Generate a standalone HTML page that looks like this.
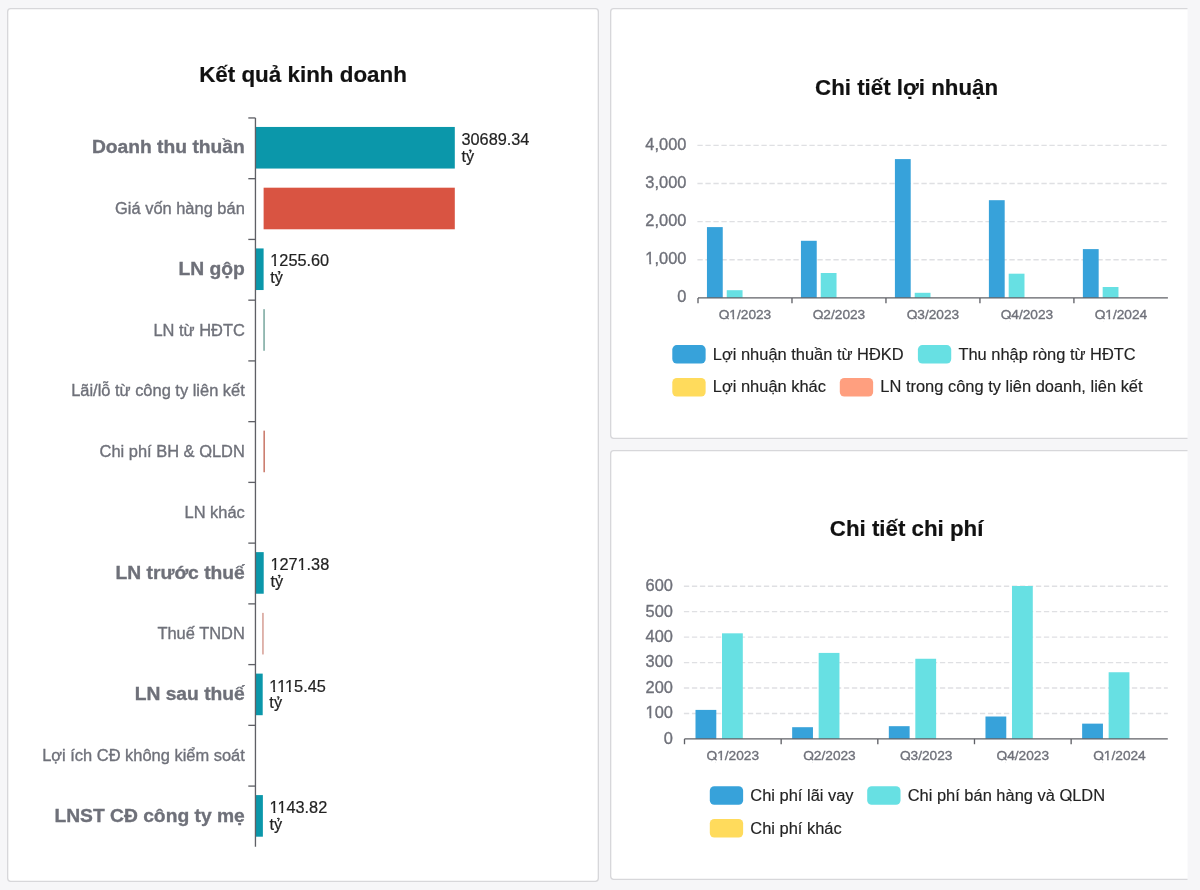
<!DOCTYPE html>
<html><head><meta charset="utf-8"><title>Kết quả kinh doanh</title>
<style>
html,body{margin:0;padding:0;background:#F6F6F8;width:1200px;height:890px;overflow:hidden;}
svg{display:block;will-change:transform;font-family:"Liberation Sans", sans-serif;}
text{font-family:"Liberation Sans", sans-serif;paint-order:stroke;}
.g{stroke:#6E7079;stroke-width:0.35px;}
.d{stroke:#222;stroke-width:0.2px;}
.l{stroke:#222;stroke-width:0.15px;}
.t{stroke:#111;stroke-width:0.2px;}
</style></head><body>
<svg width="1200" height="890" viewBox="0 0 1200 890">
<defs><clipPath id="rc"><rect x="0" y="0" width="1187.5" height="890"/></clipPath></defs>
<rect x="7.67" y="8.67" width="590.67" height="872.67" rx="3" ry="3" fill="#fff" stroke="#D7D7DA" stroke-width="1.33"/>
<g clip-path="url(#rc)">
<rect x="610.67" y="8.67" width="600" height="429.67" rx="3" ry="3" fill="#fff" stroke="#D7D7DA" stroke-width="1.33"/>
<rect x="610.67" y="450.67" width="600" height="428.67" rx="3" ry="3" fill="#fff" stroke="#D7D7DA" stroke-width="1.33"/>
</g>
<text x="303" y="82.3" text-anchor="middle" font-size="22.4" font-weight="bold" fill="#111111" class="t">Kết quả kinh doanh</text>
<text x="244.8" y="152.72" text-anchor="end" font-size="19.25" font-weight="bold" fill="#6E7079" class="g">Doanh thu thuần</text>
<text x="244.8" y="214.06" text-anchor="end" font-size="16.45" fill="#6E7079" class="g">Giá vốn hàng bán</text>
<text x="244.8" y="275.1" text-anchor="end" font-size="19.25" font-weight="bold" fill="#6E7079" class="g">LN gộp</text>
<text x="244.8" y="335.54" text-anchor="end" font-size="16.45" fill="#6E7079" class="g">LN từ HĐTC</text>
<text x="244.8" y="396.28" text-anchor="end" font-size="16.45" fill="#6E7079" class="g">Lãi/lỗ từ công ty liên kết</text>
<text x="244.8" y="457.02" text-anchor="end" font-size="16.45" fill="#6E7079" class="g">Chi phí BH &amp; QLDN</text>
<text x="244.8" y="517.76" text-anchor="end" font-size="16.45" fill="#6E7079" class="g">LN khác</text>
<text x="244.8" y="578.8" text-anchor="end" font-size="19.25" font-weight="bold" fill="#6E7079" class="g">LN trước thuế</text>
<text x="244.8" y="639.24" text-anchor="end" font-size="16.45" fill="#6E7079" class="g">Thuế TNDN</text>
<text x="244.8" y="700.28" text-anchor="end" font-size="19.25" font-weight="bold" fill="#6E7079" class="g">LN sau thuế</text>
<text x="244.8" y="760.72" text-anchor="end" font-size="16.45" fill="#6E7079" class="g">Lợi ích CĐ không kiểm soát</text>
<text x="244.8" y="821.76" text-anchor="end" font-size="19.25" font-weight="bold" fill="#6E7079" class="g">LNST CĐ công ty mẹ</text>
<rect x="255.45" y="126.95" width="199.35" height="41.6" fill="#0B97AA"/>
<text x="461.47" y="144.95" font-size="16.3" fill="#222222" class="d">30689.34</text>
<text x="461.47" y="161.55" font-size="16.3" fill="#222222" class="d">ty</text>
<path d="M469.47 150.35c0.6-0.45 1.7-0.3 1.6 0.5c-0.05 0.5-0.7 0.7-0.8 1.1l0 0.7" fill="none" stroke="#222222" stroke-width="1.2" stroke-linecap="round"/>
<rect x="263.61" y="187.69" width="191.19" height="41.6" fill="#D95442"/>
<rect x="255.45" y="248.43" width="8.16" height="41.6" fill="#0B97AA"/>
<text x="270.28" y="266.43" font-size="16.3" fill="#222222" class="d">1255.60</text>
<text x="270.28" y="283.03" font-size="16.3" fill="#222222" class="d">ty</text>
<path d="M278.28 271.83c0.6-0.45 1.7-0.3 1.6 0.5c-0.05 0.5-0.7 0.7-0.8 1.1l0 0.7" fill="none" stroke="#222222" stroke-width="1.2" stroke-linecap="round"/>
<rect x="263.4" y="309.17" width="1.3" height="41.6" fill="#63998F"/>
<rect x="263.5" y="430.65" width="1.3" height="41.6" fill="#C0604F"/>
<rect x="255.45" y="552.13" width="8.26" height="41.6" fill="#0B97AA"/>
<text x="270.38" y="570.13" font-size="16.3" fill="#222222" class="d">1271.38</text>
<text x="270.38" y="586.73" font-size="16.3" fill="#222222" class="d">ty</text>
<path d="M278.38 575.53c0.6-0.45 1.7-0.3 1.6 0.5c-0.05 0.5-0.7 0.7-0.8 1.1l0 0.7" fill="none" stroke="#222222" stroke-width="1.2" stroke-linecap="round"/>
<rect x="262.3" y="612.87" width="1.3" height="41.6" fill="#CF8F84"/>
<rect x="255.45" y="673.61" width="7.25" height="41.6" fill="#0B97AA"/>
<text x="269.37" y="691.61" font-size="16.3" fill="#222222" class="d">1115.45</text>
<text x="269.37" y="708.21" font-size="16.3" fill="#222222" class="d">ty</text>
<path d="M277.37 697.01c0.6-0.45 1.7-0.3 1.6 0.5c-0.05 0.5-0.7 0.7-0.8 1.1l0 0.7" fill="none" stroke="#222222" stroke-width="1.2" stroke-linecap="round"/>
<rect x="255.45" y="795.09" width="7.43" height="41.6" fill="#0B97AA"/>
<text x="269.55" y="813.09" font-size="16.3" fill="#222222" class="d">1143.82</text>
<text x="269.55" y="829.69" font-size="16.3" fill="#222222" class="d">ty</text>
<path d="M277.55 818.49c0.6-0.45 1.7-0.3 1.6 0.5c-0.05 0.5-0.7 0.7-0.8 1.1l0 0.7" fill="none" stroke="#222222" stroke-width="1.2" stroke-linecap="round"/>
<line x1="255.45" y1="117.95" x2="255.45" y2="846.83" stroke="#5F6066" stroke-width="1.33"/>
<line x1="248.3" y1="117.95" x2="255.45" y2="117.95" stroke="#5F6066" stroke-width="1.33"/>
<line x1="248.3" y1="178.69" x2="255.45" y2="178.69" stroke="#5F6066" stroke-width="1.33"/>
<line x1="248.3" y1="239.43" x2="255.45" y2="239.43" stroke="#5F6066" stroke-width="1.33"/>
<line x1="248.3" y1="300.17" x2="255.45" y2="300.17" stroke="#5F6066" stroke-width="1.33"/>
<line x1="248.3" y1="360.91" x2="255.45" y2="360.91" stroke="#5F6066" stroke-width="1.33"/>
<line x1="248.3" y1="421.65" x2="255.45" y2="421.65" stroke="#5F6066" stroke-width="1.33"/>
<line x1="248.3" y1="482.39" x2="255.45" y2="482.39" stroke="#5F6066" stroke-width="1.33"/>
<line x1="248.3" y1="543.13" x2="255.45" y2="543.13" stroke="#5F6066" stroke-width="1.33"/>
<line x1="248.3" y1="603.87" x2="255.45" y2="603.87" stroke="#5F6066" stroke-width="1.33"/>
<line x1="248.3" y1="664.61" x2="255.45" y2="664.61" stroke="#5F6066" stroke-width="1.33"/>
<line x1="248.3" y1="725.35" x2="255.45" y2="725.35" stroke="#5F6066" stroke-width="1.33"/>
<line x1="248.3" y1="786.09" x2="255.45" y2="786.09" stroke="#5F6066" stroke-width="1.33"/>
<text x="906.6" y="95.3" text-anchor="middle" font-size="22.3" font-weight="bold" fill="#111111" class="t">Chi tiết lợi nhuận</text>
<line x1="697.4" y1="259.77" x2="1167.9" y2="259.77" stroke="#DFE0E3" stroke-width="1.33" stroke-dasharray="5.33 2.67"/>
<line x1="697.4" y1="221.65" x2="1167.9" y2="221.65" stroke="#DFE0E3" stroke-width="1.33" stroke-dasharray="5.33 2.67"/>
<line x1="697.4" y1="183.52" x2="1167.9" y2="183.52" stroke="#DFE0E3" stroke-width="1.33" stroke-dasharray="5.33 2.67"/>
<line x1="697.4" y1="145.4" x2="1167.9" y2="145.4" stroke="#DFE0E3" stroke-width="1.33" stroke-dasharray="5.33 2.67"/>
<text x="686.4" y="302.4" text-anchor="end" font-size="16.4" fill="#6E7079" class="g">0</text>
<text x="686.4" y="264.27" text-anchor="end" font-size="16.4" fill="#6E7079" class="g">1,000</text>
<text x="686.4" y="226.15" text-anchor="end" font-size="16.4" fill="#6E7079" class="g">2,000</text>
<text x="686.4" y="188.02" text-anchor="end" font-size="16.4" fill="#6E7079" class="g">3,000</text>
<text x="686.4" y="149.9" text-anchor="end" font-size="16.4" fill="#6E7079" class="g">4,000</text>
<rect x="706.95" y="227.1" width="15.8" height="70.8" fill="#37A2DA"/>
<rect x="800.93" y="240.79" width="15.8" height="57.11" fill="#37A2DA"/>
<rect x="894.91" y="159.09" width="15.8" height="138.81" fill="#37A2DA"/>
<rect x="988.89" y="200.19" width="15.8" height="97.71" fill="#37A2DA"/>
<rect x="1082.87" y="249.1" width="15.8" height="48.8" fill="#37A2DA"/>
<rect x="726.75" y="290.2" width="15.8" height="7.7" fill="#67E0E3"/>
<rect x="820.73" y="273" width="15.8" height="24.9" fill="#67E0E3"/>
<rect x="914.71" y="292.79" width="15.8" height="5.11" fill="#67E0E3"/>
<rect x="1008.69" y="273.69" width="15.8" height="24.21" fill="#67E0E3"/>
<rect x="1102.67" y="287" width="15.8" height="10.9" fill="#67E0E3"/>
<line x1="698" y1="297.9" x2="1167.9" y2="297.9" stroke="#5F6066" stroke-width="1.33"/>
<line x1="698" y1="297.9" x2="698" y2="303.23" stroke="#5F6066" stroke-width="1.33"/>
<line x1="791.98" y1="297.9" x2="791.98" y2="303.23" stroke="#5F6066" stroke-width="1.33"/>
<line x1="885.96" y1="297.9" x2="885.96" y2="303.23" stroke="#5F6066" stroke-width="1.33"/>
<line x1="979.94" y1="297.9" x2="979.94" y2="303.23" stroke="#5F6066" stroke-width="1.33"/>
<line x1="1073.92" y1="297.9" x2="1073.92" y2="303.23" stroke="#5F6066" stroke-width="1.33"/>
<text x="744.99" y="318.9" text-anchor="middle" font-size="13.7" fill="#6E7079" class="g">Q1/2023</text>
<text x="838.97" y="318.9" text-anchor="middle" font-size="13.7" fill="#6E7079" class="g">Q2/2023</text>
<text x="932.95" y="318.9" text-anchor="middle" font-size="13.7" fill="#6E7079" class="g">Q3/2023</text>
<text x="1026.93" y="318.9" text-anchor="middle" font-size="13.7" fill="#6E7079" class="g">Q4/2023</text>
<text x="1120.91" y="318.9" text-anchor="middle" font-size="13.7" fill="#6E7079" class="g">Q1/2024</text>
<rect x="672.3" y="345.1" width="33.33" height="18.5" rx="4.5" ry="4.5" fill="#37A2DA"/>
<text x="712.83" y="359.55" font-size="16.45" fill="#222222" class="l">Lợi nhuận thuần từ HĐKD</text>
<rect x="917.9" y="345.1" width="33.33" height="18.5" rx="4.5" ry="4.5" fill="#67E0E3"/>
<text x="958.43" y="359.55" font-size="16.45" fill="#222222" class="l">Thu nhập ròng từ HĐTC</text>
<rect x="672.3" y="377.95" width="33.33" height="18.5" rx="4.5" ry="4.5" fill="#FFDB5C"/>
<text x="712.83" y="392.4" font-size="16.45" fill="#222222" class="l">Lợi nhuận khác</text>
<rect x="839.8" y="377.95" width="33.33" height="18.5" rx="4.5" ry="4.5" fill="#FF9F7F"/>
<text x="880.33" y="392.4" font-size="16.45" fill="#222222" class="l">LN trong công ty liên doanh, liên kết</text>
<text x="906.6" y="536.1" text-anchor="middle" font-size="22.3" font-weight="bold" fill="#111111" class="t">Chi tiết chi phí</text>
<line x1="683.9" y1="713.46" x2="1167.8" y2="713.46" stroke="#DFE0E3" stroke-width="1.33" stroke-dasharray="5.33 2.67"/>
<line x1="683.9" y1="688.02" x2="1167.8" y2="688.02" stroke="#DFE0E3" stroke-width="1.33" stroke-dasharray="5.33 2.67"/>
<line x1="683.9" y1="662.58" x2="1167.8" y2="662.58" stroke="#DFE0E3" stroke-width="1.33" stroke-dasharray="5.33 2.67"/>
<line x1="683.9" y1="637.14" x2="1167.8" y2="637.14" stroke="#DFE0E3" stroke-width="1.33" stroke-dasharray="5.33 2.67"/>
<line x1="683.9" y1="611.7" x2="1167.8" y2="611.7" stroke="#DFE0E3" stroke-width="1.33" stroke-dasharray="5.33 2.67"/>
<line x1="683.9" y1="586.26" x2="1167.8" y2="586.26" stroke="#DFE0E3" stroke-width="1.33" stroke-dasharray="5.33 2.67"/>
<text x="672.9" y="743.8" text-anchor="end" font-size="16.4" fill="#6E7079" class="g">0</text>
<text x="672.9" y="718.36" text-anchor="end" font-size="16.4" fill="#6E7079" class="g">100</text>
<text x="672.9" y="692.92" text-anchor="end" font-size="16.4" fill="#6E7079" class="g">200</text>
<text x="672.9" y="667.48" text-anchor="end" font-size="16.4" fill="#6E7079" class="g">300</text>
<text x="672.9" y="642.04" text-anchor="end" font-size="16.4" fill="#6E7079" class="g">400</text>
<text x="672.9" y="616.6" text-anchor="end" font-size="16.4" fill="#6E7079" class="g">500</text>
<text x="672.9" y="591.16" text-anchor="end" font-size="16.4" fill="#6E7079" class="g">600</text>
<rect x="695.5" y="709.9" width="20.8" height="29" fill="#37A2DA"/>
<rect x="792.16" y="727.2" width="20.8" height="11.7" fill="#37A2DA"/>
<rect x="888.82" y="726.18" width="20.8" height="12.72" fill="#37A2DA"/>
<rect x="985.48" y="716.51" width="20.8" height="22.39" fill="#37A2DA"/>
<rect x="1082.14" y="723.64" width="20.8" height="15.26" fill="#37A2DA"/>
<rect x="722" y="633.32" width="20.8" height="105.58" fill="#67E0E3"/>
<rect x="818.66" y="652.91" width="20.8" height="85.99" fill="#67E0E3"/>
<rect x="915.32" y="658.76" width="20.8" height="80.14" fill="#67E0E3"/>
<rect x="1011.98" y="586.01" width="20.8" height="152.89" fill="#67E0E3"/>
<rect x="1108.64" y="672.25" width="20.8" height="66.65" fill="#67E0E3"/>
<line x1="684.5" y1="738.9" x2="1167.8" y2="738.9" stroke="#5F6066" stroke-width="1.33"/>
<line x1="684.5" y1="738.9" x2="684.5" y2="744.23" stroke="#5F6066" stroke-width="1.33"/>
<line x1="781.16" y1="738.9" x2="781.16" y2="744.23" stroke="#5F6066" stroke-width="1.33"/>
<line x1="877.82" y1="738.9" x2="877.82" y2="744.23" stroke="#5F6066" stroke-width="1.33"/>
<line x1="974.48" y1="738.9" x2="974.48" y2="744.23" stroke="#5F6066" stroke-width="1.33"/>
<line x1="1071.14" y1="738.9" x2="1071.14" y2="744.23" stroke="#5F6066" stroke-width="1.33"/>
<text x="732.83" y="760" text-anchor="middle" font-size="13.7" fill="#6E7079" class="g">Q1/2023</text>
<text x="829.49" y="760" text-anchor="middle" font-size="13.7" fill="#6E7079" class="g">Q2/2023</text>
<text x="926.15" y="760" text-anchor="middle" font-size="13.7" fill="#6E7079" class="g">Q3/2023</text>
<text x="1022.81" y="760" text-anchor="middle" font-size="13.7" fill="#6E7079" class="g">Q4/2023</text>
<text x="1119.47" y="760" text-anchor="middle" font-size="13.7" fill="#6E7079" class="g">Q1/2024</text>
<rect x="709.8" y="786.2" width="33.33" height="18.5" rx="4.5" ry="4.5" fill="#37A2DA"/>
<text x="750.33" y="800.65" font-size="16.45" fill="#222222" class="l">Chi phí lãi vay</text>
<rect x="867.2" y="786.2" width="33.33" height="18.5" rx="4.5" ry="4.5" fill="#67E0E3"/>
<text x="907.73" y="800.65" font-size="16.45" fill="#222222" class="l">Chi phí bán hàng và QLDN</text>
<rect x="709.8" y="819.05" width="33.33" height="18.5" rx="4.5" ry="4.5" fill="#FFDB5C"/>
<text x="750.33" y="833.5" font-size="16.45" fill="#222222" class="l">Chi phí khác</text>
<rect x="204.75" y="457.37" width="5.46" height="4.71" fill="#fff"/>
<line x1="207.35" y1="453.73" x2="211.14" y2="457.35" stroke="#6E7079" stroke-width="1.4"/>
<rect x="270.64" y="264" width="3.52" height="4" fill="#fff"/>
<rect x="276.04" y="264" width="3" height="4" fill="#fff"/>
<rect x="270.74" y="568" width="3.52" height="4" fill="#fff"/>
<rect x="276.14" y="568" width="3" height="4" fill="#fff"/>
<rect x="297.89" y="568" width="3.52" height="4" fill="#fff"/>
<rect x="303.3" y="568" width="3" height="4" fill="#fff"/>
<rect x="269.73" y="689" width="3.52" height="4" fill="#fff"/>
<rect x="275.13" y="689" width="3" height="4" fill="#fff"/>
<rect x="277.57" y="689" width="3.52" height="4" fill="#fff"/>
<rect x="282.97" y="689" width="3" height="4" fill="#fff"/>
<rect x="285.41" y="689" width="3.52" height="4" fill="#fff"/>
<rect x="290.82" y="689" width="3" height="4" fill="#fff"/>
<rect x="269.91" y="811" width="3.52" height="4" fill="#fff"/>
<rect x="275.31" y="811" width="3" height="4" fill="#fff"/>
<rect x="277.75" y="811" width="3.52" height="4" fill="#fff"/>
<rect x="283.15" y="811" width="3" height="4" fill="#fff"/>
<rect x="645.73" y="262" width="3.54" height="4" fill="#fff"/>
<rect x="651.16" y="262" width="3.01" height="4" fill="#fff"/>
<rect x="723.41" y="319.25" width="4.55" height="4.18" fill="#fff"/>
<line x1="725.58" y1="316.16" x2="728.73" y2="319.17" stroke="#6E7079" stroke-width="1.16"/>
<rect x="729.58" y="317" width="3.02" height="3" fill="#fff"/>
<rect x="734.25" y="317" width="2.53" height="3" fill="#fff"/>
<rect x="817.39" y="319.25" width="4.55" height="4.18" fill="#fff"/>
<line x1="819.56" y1="316.16" x2="822.71" y2="319.17" stroke="#6E7079" stroke-width="1.16"/>
<rect x="911.37" y="319.25" width="4.55" height="4.18" fill="#fff"/>
<line x1="913.54" y1="316.16" x2="916.69" y2="319.17" stroke="#6E7079" stroke-width="1.16"/>
<rect x="1005.35" y="319.25" width="4.55" height="4.18" fill="#fff"/>
<line x1="1007.52" y1="316.16" x2="1010.67" y2="319.17" stroke="#6E7079" stroke-width="1.16"/>
<rect x="1099.33" y="319.25" width="4.55" height="4.18" fill="#fff"/>
<line x1="1101.5" y1="316.16" x2="1104.65" y2="319.17" stroke="#6E7079" stroke-width="1.16"/>
<rect x="1105.5" y="317" width="3.02" height="3" fill="#fff"/>
<rect x="1110.17" y="317" width="2.53" height="3" fill="#fff"/>
<rect x="645.9" y="716" width="3.54" height="4" fill="#fff"/>
<rect x="651.33" y="716" width="3.01" height="4" fill="#fff"/>
<rect x="711.25" y="760.35" width="4.55" height="4.18" fill="#fff"/>
<line x1="713.42" y1="757.26" x2="716.57" y2="760.27" stroke="#6E7079" stroke-width="1.16"/>
<rect x="717.42" y="758" width="3.02" height="3" fill="#fff"/>
<rect x="722.09" y="758" width="2.53" height="3" fill="#fff"/>
<rect x="807.91" y="760.35" width="4.55" height="4.18" fill="#fff"/>
<line x1="810.08" y1="757.26" x2="813.23" y2="760.27" stroke="#6E7079" stroke-width="1.16"/>
<rect x="904.57" y="760.35" width="4.55" height="4.18" fill="#fff"/>
<line x1="906.74" y1="757.26" x2="909.89" y2="760.27" stroke="#6E7079" stroke-width="1.16"/>
<rect x="1001.23" y="760.35" width="4.55" height="4.18" fill="#fff"/>
<line x1="1003.4" y1="757.26" x2="1006.55" y2="760.27" stroke="#6E7079" stroke-width="1.16"/>
<rect x="1097.89" y="760.35" width="4.55" height="4.18" fill="#fff"/>
<line x1="1100.06" y1="757.26" x2="1103.21" y2="760.27" stroke="#6E7079" stroke-width="1.16"/>
<rect x="1104.06" y="758" width="3.02" height="3" fill="#fff"/>
<rect x="1108.73" y="758" width="2.53" height="3" fill="#fff"/>
<rect x="1065.04" y="801" width="5.46" height="4.71" fill="#fff"/>
<line x1="1067.64" y1="797.36" x2="1071.43" y2="800.98" stroke="#222222" stroke-width="1.4"/>
</svg>
</body></html>
